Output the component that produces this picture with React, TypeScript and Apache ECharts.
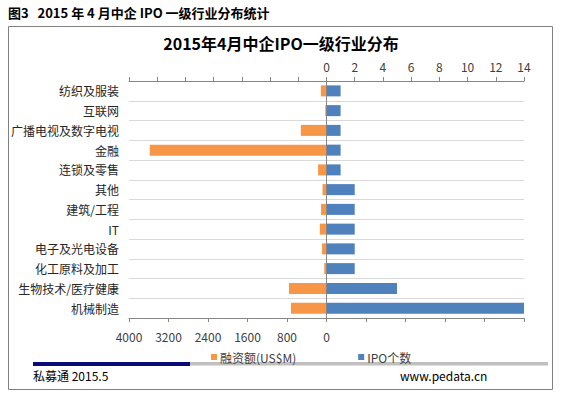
import React, { useEffect, useRef } from "react";
import * as echarts from "echarts";

const categories = [
  "纺织及服装",
  "互联网",
  "广播电视及数字电视",
  "金融",
  "连锁及零售",
  "其他",
  "建筑/工程",
  "IT",
  "电子及光电设备",
  "化工原料及加工",
  "生物技术/医疗健康",
  "机械制造",
];
const financing = [115, 25, 520, 3580, 170, 80, 110, 135, 90, 45, 760, 720];
const ipoCount = [1, 1, 1, 1, 1, 2, 2, 2, 2, 2, 5, 14];
const seriesNames = ["融资额(US$M)", "IPO个数"];

const FONT = '"Noto Sans CJK SC", "Noto Sans", sans-serif';

export default function App() {
  const ref = useRef<HTMLDivElement>(null);
  useEffect(() => {
    if (!ref.current) return;
    const chart = echarts.init(ref.current, null, { renderer: "svg" });
    chart.setOption({
      animation: false,
      backgroundColor: "#ffffff",
      textStyle: { fontFamily: FONT },
      title: {
        text: "2015年4月中企IPO一级行业分布",
        left: "center",
        top: 33,
        padding: 0,
        textStyle: { fontSize: 16, fontWeight: "bold", color: "#000", fontFamily: FONT, lineHeight: 20 },
      },
      legend: {
        left: 206,
        top: 346,
        itemWidth: 6,
        itemHeight: 6,
        itemGap: 62,
        icon: "rect",
        data: seriesNames,
        textStyle: { fontSize: 12, color: "#404040", padding: [0, 0, 0, -2] },
      },
      grid: { left: 129, right: 38, top: 81, bottom: 81 },
      xAxis: [
        {
          type: "value",
          position: "bottom",
          inverse: true,
          min: -4000,
          max: 4000,
          interval: 800,
          axisLine: { show: true, lineStyle: { color: "#868686" } },
          axisTick: { show: true, length: 4, lineStyle: { color: "#868686" } },
          splitLine: { show: false },
          axisLabel: {
            margin: 12,
            fontSize: 12,
            color: "#404040",
            formatter: (v: number) => (v >= 0 ? String(v) : ""),
          },
        },
        {
          type: "value",
          position: "top",
          min: -14,
          max: 14,
          interval: 2,
          axisLine: { show: true, lineStyle: { color: "#868686" } },
          axisTick: { show: true, length: 4, lineStyle: { color: "#868686" } },
          splitLine: { show: false },
          axisLabel: {
            margin: 9,
            fontSize: 12,
            color: "#404040",
            formatter: (v: number) => (v >= 0 ? String(v) : ""),
          },
        },
      ],
      yAxis: [
        {
          type: "category",
          inverse: true,
          data: categories,
          axisLine: { show: false, onZero: false },
          axisTick: { show: false },
          splitLine: { show: true, lineStyle: { color: "#D9D9D9" } },
          axisLabel: { margin: 10, fontSize: 12, color: "#262626" },
        },
      ],
      series: [
        {
          name: seriesNames[0],
          type: "bar",
          xAxisIndex: 0,
          yAxisIndex: 0,
          data: financing,
          barWidth: 11,
          barGap: "-100%",
          itemStyle: { color: "#F79646" },
        },
        {
          name: seriesNames[1],
          type: "bar",
          xAxisIndex: 1,
          yAxisIndex: 0,
          data: ipoCount,
          barWidth: 11,
          barGap: "-100%",
          itemStyle: { color: "#4F81BD" },
          markLine: {
            silent: true,
            symbol: "none",
            label: { show: false },
            lineStyle: { color: "#868686", type: "solid", width: 1 },
            data: [{ xAxis: 0 }],
          },
        },
      ],
      graphic: [
        {
          type: "text",
          left: 8,
          top: 6,
          style: {
            text: "图3   2015 年 4 月中企 IPO 一级行业分布统计",
            font: `bold 13px ${FONT}`,
            fill: "#000",
          },
        },
        {
          type: "rect",
          shape: { x: 8.5, y: 26.5, width: 544, height: 363 },
          style: { fill: "none", stroke: "#808080", lineWidth: 1 },
          silent: true,
        },
        {
          type: "rect",
          shape: { x: 33, y: 362, width: 157, height: 4 },
          style: { fill: "#0A0A78" },
          silent: true,
        },
        {
          type: "rect",
          shape: { x: 190, y: 362, width: 358, height: 3.5 },
          style: { fill: "#C0C0C0" },
          silent: true,
        },
        {
          type: "text",
          left: 33,
          top: 369,
          style: { text: "私募通 2015.5", font: `12px ${FONT}`, fill: "#000" },
        },
        {
          type: "text",
          left: 400,
          top: 369,
          style: { text: "www.pedata.cn", font: `12px ${FONT}`, fill: "#000" },
        },
      ],
    });
    return () => chart.dispose();
  }, []);
  return (
    <div
      ref={ref}
      style={{ position: "fixed", left: 0, top: 0, width: 562, height: 399 }}
    />
  );
}
